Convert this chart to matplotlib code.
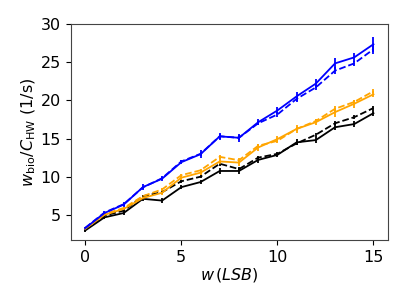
import numpy as np
import matplotlib
matplotlib.use("Agg")
import matplotlib.pyplot as plt

w = np.arange(16)

blue_solid = [3.26, 5.24, 6.34, 8.63, 9.74, 11.9, 12.95, 15.29, 15.1, 17.14, 18.68, 20.53, 22.2, 24.85, 25.64, 27.36]
blue_dash = [3.3, 5.3, 6.4, 8.6, 9.8, 12.0, 13.0, 15.3, 15.1, 17.0, 18.15, 20.2, 21.7, 23.9, 24.85, 26.7]
orange_solid = [3.17, 5.0, 5.77, 7.2, 7.9, 9.87, 10.53, 12.0, 11.85, 13.83, 14.93, 16.26, 17.14, 18.46, 19.56, 20.8]
orange_dash = [3.25, 5.1, 5.9, 7.45, 8.33, 10.2, 10.84, 12.6, 12.16, 14.05, 14.7, 16.26, 17.3, 18.9, 19.8, 21.2]
black_solid = [2.95, 4.67, 5.24, 7.1, 6.87, 8.63, 9.3, 10.75, 10.75, 12.2, 12.86, 14.5, 14.8, 16.48, 16.9, 18.33]
black_dash = [3.1, 4.9, 5.55, 7.45, 7.97, 9.4, 10.0, 11.7, 11.0, 12.5, 13.0, 14.36, 15.5, 17.0, 17.8, 19.0]

blue_err = [0.2, 0.2, 0.3, 0.4, 0.3, 0.3, 0.5, 0.5, 0.5, 0.4, 0.5, 0.6, 0.6, 0.7, 0.6, 1.0]
orange_err = [0.2, 0.2, 0.2, 0.3, 0.3, 0.3, 0.3, 0.4, 0.4, 0.5, 0.4, 0.5, 0.4, 0.6, 0.5, 0.4]
black_err = [0.2, 0.2, 0.2, 0.3, 0.3, 0.3, 0.3, 0.4, 0.4, 0.4, 0.3, 0.4, 0.4, 0.4, 0.4, 0.4]

fig = plt.figure(figsize=(4.07, 3.05), dpi=100)
ax = fig.add_axes([0.174, 0.213, 0.779, 0.708])

# solid = measured, dashed = model; dashed bars drawn a bit smaller
series = [(black_solid, black_err, 'black', '-'), (black_dash, black_err, 'black', '--'),
          (orange_solid, orange_err, 'orange', '-'), (orange_dash, orange_err, 'orange', '--'),
          (blue_solid, blue_err, 'blue', '-'), (blue_dash, blue_err, 'blue', '--')]
for ys, err, c, ls in series:
    e = err if ls == '-' else [x * 0.6 for x in err]
    ax.errorbar(w, ys, yerr=e, color=c, ls=ls, lw=1.3, elinewidth=1.3, capsize=0)

ax.set_xlim(-0.75, 15.75)
ax.set_ylim(1.7, 30)
ax.set_xticks([0, 5, 10, 15])
ax.set_yticks([5, 10, 15, 20, 25, 30])
ax.tick_params(labelsize=11.5)
for s in ax.spines.values():
    s.set_color('#444444')
ax.set_xlabel(r'$w\,(LSB)$', fontsize=11.5, labelpad=1)
ax.set_ylabel(r'$w_{\rm bio}/C_{\rm HW}$ (1/s)', fontsize=11.5, labelpad=2)

plt.savefig('out.png', dpi=100)
